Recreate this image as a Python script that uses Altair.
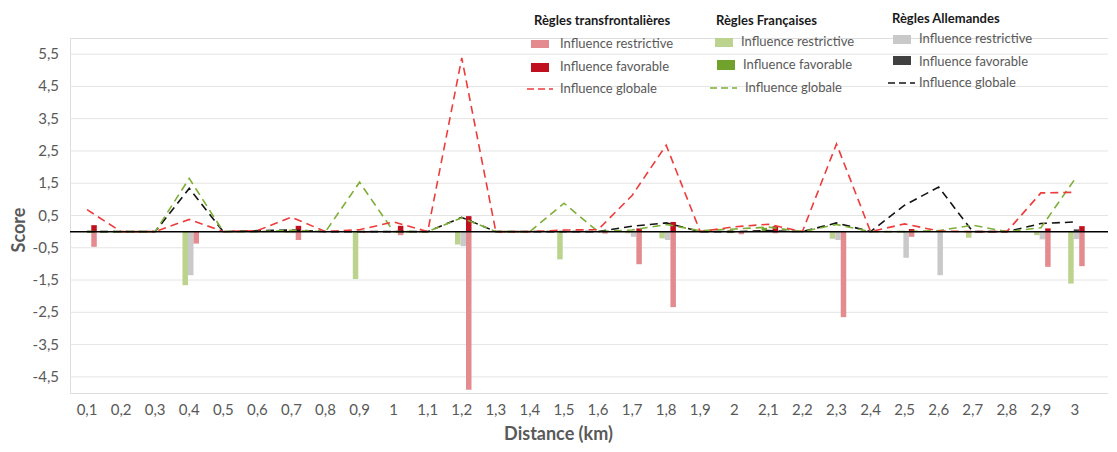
import altair as alt
import pandas as pd

cats = ["0,1", "0,2", "0,3", "0,4", "0,5", "0,6", "0,7", "0,8", "0,9", "1",
        "1,1", "1,2", "1,3", "1,4", "1,5", "1,6", "1,7", "1,8", "1,9", "2",
        "2,1", "2,2", "2,3", "2,4", "2,5", "2,6", "2,7", "2,8", "2,9", "3"]

# Règles transfrontalières
tr_res = [-0.47, 0, 0, -0.37, 0, 0, -0.26, 0, -0.04, -0.11,
          0, -4.90, 0, 0, -0.03, -0.06, -1.01, -2.34, 0, -0.08,
          -0.05, 0, -2.65, 0, -0.16, 0, 0, 0, -1.09, -1.07]
tr_fav = [0.20, 0, 0, 0, 0, 0, 0.18, 0, 0, 0.18,
          0, 0.48, 0, 0, 0, 0, 0.10, 0.30, 0, 0,
          0.17, 0, 0, 0, 0.08, 0, 0, 0, 0.10, 0.17]
tr_glob = [0.68, 0, 0, 0.38, 0, 0.03, 0.45, 0, 0.06, 0.30,
           0, 5.38, 0, 0, 0.05, 0.06, 1.12, 2.68, 0, 0.15,
           0.23, 0, 2.72, 0, 0.24, 0.02, 0, 0, 1.20, 1.22]

# Règles Françaises
fr_res = [0, 0, 0, -1.66, 0, 0, -0.04, 0, -1.47, 0,
          0, -0.40, 0, 0, -0.86, 0, -0.05, -0.21, 0, -0.05,
          0, 0, -0.22, 0, 0, 0, -0.19, 0, -0.11, -1.61]
fr_fav = [0, 0, 0, 0, 0, 0, 0, 0, 0, 0,
          0, 0, 0, 0, 0, 0, 0, 0, 0.03, 0.04,
          0.12, 0, 0, 0, 0, 0, 0, 0, 0, 0]
fr_glob = [0, 0, 0, 1.65, 0, 0, 0.04, 0, 1.53, 0,
           0, 0.43, 0, 0, 0.88, 0, 0.05, 0.22, 0.03, 0.08,
           0.14, 0, 0.22, 0, 0, 0.03, 0.20, 0, 0.12, 1.63]

# Règles Allemandes
de_res = [0, 0, 0, -1.35, 0, 0, -0.05, 0, 0, 0,
          0, -0.45, 0, 0, 0, 0, -0.16, -0.26, 0, 0,
          0, 0, -0.26, 0, -0.81, -1.35, 0, 0, -0.24, -0.23]
de_fav = [0, 0, 0, 0, 0, 0, 0, 0, 0, 0,
          0, 0, 0, 0, 0, 0, 0, 0, 0, 0,
          0, 0, 0, 0, 0, 0, 0, 0, 0, 0.07]
de_glob = [0, 0, 0, 1.34, 0, 0.03, 0.05, 0, 0, 0,
           0, 0.44, 0, 0, 0, 0, 0.17, 0.27, 0, 0,
           0.03, 0, 0.27, 0, 0.82, 1.38, 0, 0, 0.25, 0.30]

y_ticks = [-4.5, -3.5, -2.5, -1.5, -0.5, 0.5, 1.5, 2.5, 3.5, 4.5, 5.5]

groups = ["fr", "de", "tr"]
bar_series = {
    "fr": (fr_res, fr_fav),
    "de": (de_res, de_fav),
    "tr": (tr_res, tr_fav),
}
rows = []
for g in groups:
    res, fav = bar_series[g]
    for c, r, f in zip(cats, res, fav):
        rows.append({"cat": c, "grp": g, "series": g + "_res", "value": r})
        rows.append({"cat": c, "grp": g, "series": g + "_fav", "value": f})
bars_df = pd.DataFrame(rows)

line_rows = []
for g, vals in [("de", de_glob), ("fr", fr_glob), ("tr", tr_glob)]:
    for c, v in zip(cats, vals):
        line_rows.append({"cat": c, "grp": g, "value": v})
lines_df = pd.DataFrame(line_rows)

ticks_df = pd.DataFrame({"value": y_ticks})

FONT = "Lato"
GREY = "#595959"

col = {
    "tr_res": "#E38B8E", "tr_fav": "#C00F1E", "tr_line": "#EE3B3B",
    "fr_res": "#BCD38E", "fr_fav": "#70A22C", "fr_line": "#7DAE35",
    "de_res": "#C9C9C9", "de_fav": "#404040", "de_line": "#141414",
}
ser_dom = ["fr_res", "fr_fav", "de_res", "de_fav", "tr_res", "tr_fav"]
bar_shift = {"fr": -4, "de": 1.5, "tr": 7}

W, H = 1038, 355

x_enc = alt.X(
    "cat:N", sort=cats,
    scale=alt.Scale(paddingInner=0, paddingOuter=0.235, align=0),
    axis=alt.Axis(title="Distance (km)", labelAngle=0, domain=False, ticks=False,
                  grid=False, labelPadding=9, labelFontSize=15, labelColor=GREY,
                  labelFont=FONT, labelOverlap=False,
                  titleFont=FONT, titleFontSize=18, titleColor=GREY,
                  titleFontWeight="bold", titleX=488, titleY=41,
                  titleBaseline="middle", titleAlign="center"),
)
y_scale = alt.Scale(domain=[-5, 6], nice=False, zero=False)
y_enc = alt.Y("value:Q", scale=y_scale, axis=None)

color_enc = alt.Color("series:N", scale=alt.Scale(domain=ser_dom,
                                                   range=[col[s] for s in ser_dom]),
                      legend=None)

# gridlines and y tick labels through the y scale
grid = alt.Chart(ticks_df).mark_rule(color="#E4E4E4", strokeWidth=1).encode(y=y_enc)
ylabels = alt.Chart(ticks_df).transform_calculate(
    lab="(datum.value < 0 ? '-' : '') + replace(format(abs(datum.value), '.1f'), '.', ',')"
).mark_text(align="right", baseline="middle", font=FONT, fontSize=15, color=GREY).encode(
    y=y_enc, x=alt.value(-11), text="lab:N")

one = alt.Data(values=[{"k": 0}])
ytitle = alt.Chart(one).mark_text(
    text="Score", angle=270, align="center", baseline="middle", font=FONT,
    fontSize=18, fontWeight="bold", color=GREY,
).encode(x=alt.value(-50), y=alt.value(192))

bar_layers = []
for g in groups:
    bar_layers.append(
        alt.Chart(bars_df).transform_filter(alt.datum.grp == g)
        .mark_bar(width=5.5, xOffset=bar_shift[g])
        .encode(x=x_enc, y=y_enc, color=color_enc)
    )

line_layers = []
for g in ["de", "fr", "tr"]:
    line_layers.append(
        alt.Chart(lines_df).transform_filter(alt.datum.grp == g)
        .mark_line(color=col[g + "_line"], strokeDash=[8, 5], strokeWidth=1.6)
        .encode(x=x_enc, y=y_enc)
    )

zero_rule = alt.Chart(one).mark_rule(color="black", strokeWidth=1.5).encode(
    y=alt.Y("z:Q", scale=y_scale, axis=None)).transform_calculate(z="0")


def ltext(x, y, s, bold=False):
    return alt.Chart(one).mark_text(
        text=s, align="left", baseline="middle", font=FONT,
        fontSize=13,
        fontWeight="bold" if bold else "normal",
        color="#1A1A1A" if bold else GREY,
    ).encode(x=alt.value(x), y=alt.value(y))


def lrect(x1, x2, y1, y2, c):
    return alt.Chart(one).mark_rect(color=c).encode(
        x=alt.value(x1), x2=alt.value(x2), y=alt.value(y1), y2=alt.value(y2))


def ldash(x1, x2, y, c):
    return alt.Chart(one).mark_rule(color=c, strokeDash=[7, 4], strokeWidth=1.6).encode(
        x=alt.value(x1), x2=alt.value(x2), y=alt.value(y))


legend = [
    ltext(464, -17, "Règles transfrontalières", True),
    lrect(461, 479, 2, 10, col["tr_res"]), ltext(490, 6, "Influence restrictive"),
    lrect(461, 479, 25, 34, col["tr_fav"]), ltext(490, 29, "Influence favorable"),
    ldash(457, 483, 51, col["tr_line"]), ltext(490, 51, "Influence globale"),

    ltext(646, -17, "Règles Françaises", True),
    lrect(645, 663, 0, 9, col["fr_res"]), ltext(671, 4, "Influence restrictive"),
    lrect(647, 665, 22, 32, col["fr_fav"]), ltext(673, 27, "Influence favorable"),
    ldash(640, 667, 50, col["fr_line"]), ltext(675, 50, "Influence globale"),

    ltext(822, -19, "Règles Allemandes", True),
    lrect(823, 841, -3, 6, col["de_res"]), ltext(849, 1, "Influence restrictive"),
    lrect(823, 841, 18, 27, col["de_fav"]), ltext(849, 23.5, "Influence favorable"),
    ldash(818, 845, 45, col["de_line"]), ltext(849, 45, "Influence globale"),
]

chart = alt.layer(grid, ylabels, ytitle, *bar_layers, *line_layers, zero_rule,
                  *legend).properties(
    width=W, height=H,
    padding={"left": 62, "top": 30, "right": 0, "bottom": 52},
    autosize=alt.AutoSizeParams(type="none"),
).configure_view(stroke=None).configure(background="white")

chart.save("out.html", embed_options={"renderer": "svg", "actions": False})
